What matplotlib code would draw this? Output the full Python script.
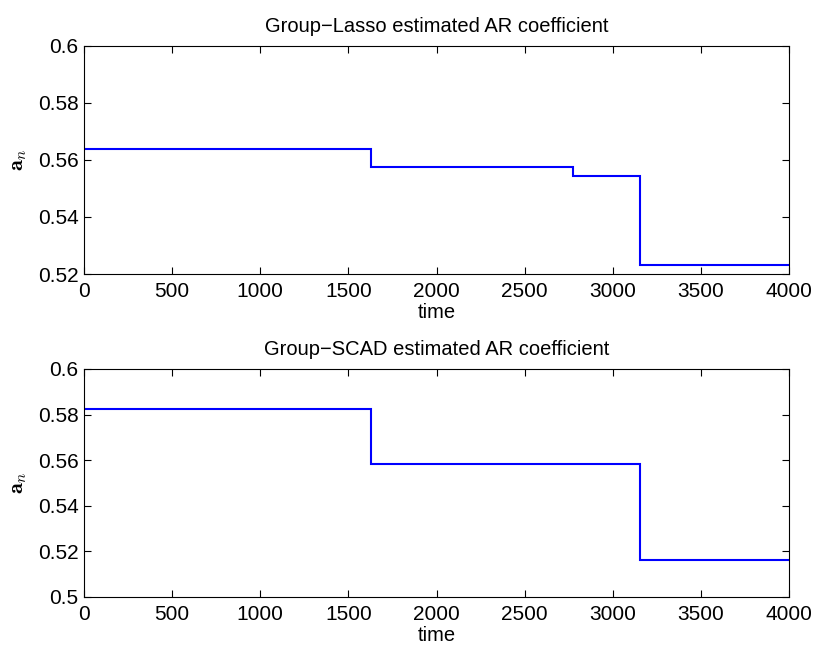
import numpy as np
import matplotlib.pyplot as plt

plt.rcParams['font.family'] = ['Liberation Sans', 'DejaVu Sans']
plt.rcParams['mathtext.fontset'] = 'cm'

# step change points and levels
lasso_t = [0, 1629, 2772, 3155, 4000]
lasso_a = [0.5637, 0.5577, 0.5545, 0.5232]
scad_t = [0, 1629, 3155, 4000]
scad_a = [0.5824, 0.5584, 0.5164]

titles = ['Group\u2212Lasso estimated AR coefficient',
          'Group\u2212SCAD estimated AR coefficient']
ylims = [(0.52, 0.6), (0.5, 0.6)]
yticks = [[0.52, 0.54, 0.56, 0.58, 0.6], [0.5, 0.52, 0.54, 0.56, 0.58, 0.6]]
yticklabels = [['0.52', '0.54', '0.56', '0.58', '0.6'],
               ['0.5', '0.52', '0.54', '0.56', '0.58', '0.6']]

fig = plt.figure(figsize=(8.13, 6.49), dpi=100)
ax1 = fig.add_axes([84/813, 1-274/649, 705/813, 228/649])
ax2 = fig.add_axes([84/813, 1-597/649, 705/813, 228/649])

for i, (ax, t, a) in enumerate([(ax1, lasso_t, lasso_a), (ax2, scad_t, scad_a)]):
    ax.stairs(a, t, color='#0000ff', linewidth=1.5, baseline=None)
    ax.set_xlim(0, 4000)
    ax.set_ylim(*ylims[i])
    ax.set_xticks(np.arange(0, 4001, 500))
    ax.set_yticks(yticks[i])
    ax.set_yticklabels(yticklabels[i])
    ax.tick_params(direction='in', top=True, right=True, labelsize=15, length=5)
    ax.tick_params(axis='x', pad=6)
    ax.tick_params(axis='y', pad=4)
    ax.set_title(titles[i], fontsize=14.5, pad=10)
    ax.set_xlabel('time', fontsize=14.5, labelpad=1)
    ax.set_ylabel(r'$\mathbf{a}_n$', fontsize=16, labelpad=6)

fig.savefig('out.png', dpi=100)
